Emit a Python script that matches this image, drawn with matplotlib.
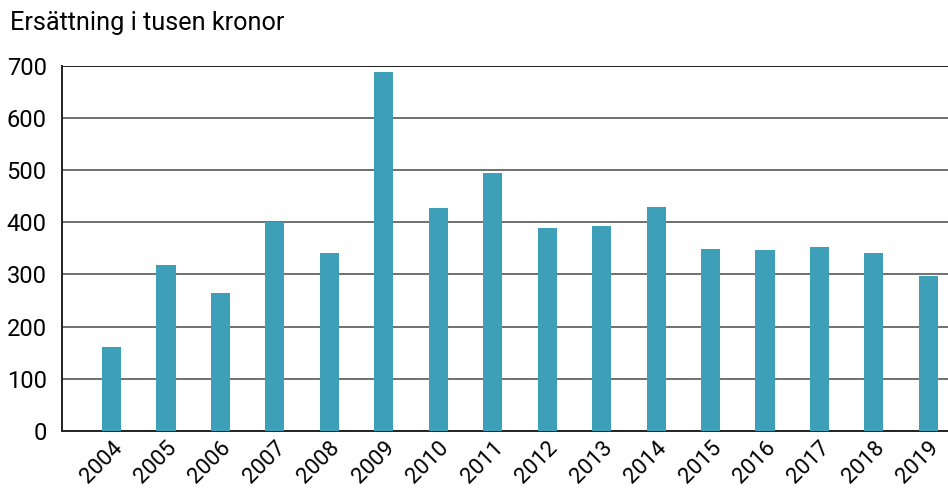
import matplotlib
matplotlib.use("Agg")
from matplotlib import pyplot as plt
import numpy as np

plt.rcParams['font.family'] = ['Roboto', 'DejaVu Sans']

years = ['2004', '2005', '2006', '2007', '2008', '2009', '2010', '2011',
         '2012', '2013', '2014', '2015', '2016', '2017', '2018', '2019']
values = [160, 318, 264, 400, 341, 689, 428, 495,
          389, 393, 430, 349, 347, 353, 341, 297]
yticks = [0, 100, 200, 300, 400, 500, 600, 700]

fig = plt.figure(figsize=(9.48, 4.91), dpi=100)
ax = fig.add_axes([0.0654, 0.1232, 0.9346, 0.7414])

x = np.arange(len(years))
ax.bar(x, values, width=0.35, color='#3d9fb8', zorder=3)

ax.set_ylim(0, 700)
ax.set_xlim(-0.91, 15.36)
ax.set_yticks(yticks)
ax.set_xticks(x)
ax.set_xticklabels(years, rotation=45, ha='right', va='top', rotation_mode='anchor')
ax.yaxis.grid(True, color='#707070', linewidth=1.4, zorder=0)
ax.tick_params(axis='y', length=0, labelsize=17, pad=11)
ax.tick_params(axis='x', length=0, labelsize=16, pad=5)

for s in ['top', 'right']:
    ax.spines[s].set_visible(False)
ax.spines['left'].set_color('#222222')
ax.spines['bottom'].set_color('#222222')
ax.spines['left'].set_linewidth(1.4)
ax.spines['bottom'].set_linewidth(1.4)
ax.axhline(700, color='#222222', linewidth=1.4, zorder=4)

fig.text(0.0105, 0.953, "Ersättning i tusen kronor", fontsize=18.2, va='center', ha='left')

fig.savefig("out.png", dpi=100)
